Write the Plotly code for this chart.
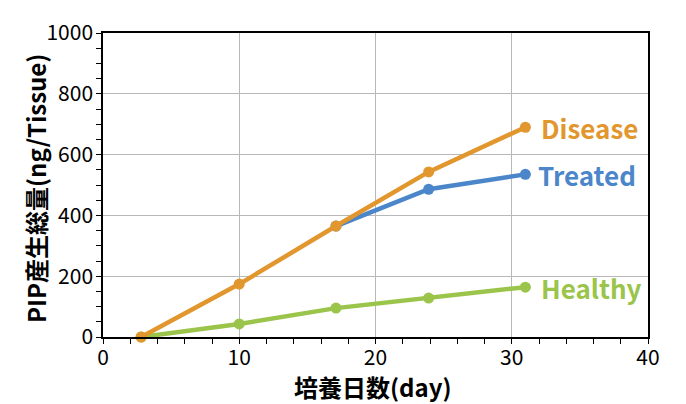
import plotly.graph_objects as go

days = [2.8, 10, 17.1, 23.9, 31]
disease = [0, 174, 365, 543, 690]
treated_days = [17.1, 23.9, 31]
treated = [365, 486, 535]
healthy = [0, 43, 95, 128, 164]

x_title = "培養日数(day)"
y_title = "PIP産生総量(ng/Tissue)"

C_DIS = "#E2962E"
C_TRT = "#4A86C9"
C_HLT = "#9AC44A"
FONT = "Noto Sans CJK JP"

fig = go.Figure()
for xs, ys, c, name in [(days, healthy, C_HLT, "Healthy"),
                        (treated_days, treated, C_TRT, "Treated"),
                        (days, disease, C_DIS, "Disease")]:
    fig.add_trace(go.Scatter(x=xs, y=ys, mode="lines+markers", name=name,
                             line=dict(color=c, width=4.5),
                             marker=dict(color=c, size=11),
                             cliponaxis=False, showlegend=False))

labels = [("Disease", disease[-1], C_DIS, 32.0),
          ("Treated", treated[-1], C_TRT, 31.8),
          ("Healthy", healthy[-1], C_HLT, 32.0)]
for txt, yv, c, xv in labels:
    fig.add_annotation(x=xv, y=yv, text="<b>" + txt + "</b>", showarrow=False,
                       xanchor="left", yanchor="middle",
                       font=dict(family=FONT, size=26, color=c))

fig.add_annotation(xref="paper", yref="paper", x=0.495, y=-0.163,
                   text="<b>" + x_title + "</b>", showarrow=False,
                   xanchor="center", yanchor="middle", borderpad=0,
                   font=dict(family=FONT, size=24, color="black"))
fig.add_annotation(xref="paper", yref="paper", x=-0.125, y=0.49,
                   text="<b>" + y_title + "</b>", showarrow=False, textangle=-90,
                   xanchor="center", yanchor="middle", borderpad=0,
                   font=dict(family=FONT, size=24, color="black"))

axis_common = dict(showline=True, linecolor="black", linewidth=1.5, mirror=True,
                   showgrid=True, gridcolor="#B8B8B8", gridwidth=1.3,
                   ticks="outside", ticklen=5, tickcolor="black", tickwidth=1,
                   zeroline=False, automargin=False,
                   tickfont=dict(family=FONT, size=21, color="black"))

fig.update_xaxes(range=[0, 40], dtick=10, ticklabelstandoff=-4,
                 minor=dict(dtick=2, ticks="outside", ticklen=5, tickcolor="black", showgrid=False),
                 **axis_common)
fig.update_yaxes(range=[0, 1000], dtick=200, ticklabelstandoff=-1,
                 minor=dict(dtick=50, ticks="outside", ticklen=5, tickcolor="black", showgrid=False),
                 **axis_common)

fig.update_layout(width=678, height=396, margin=dict(l=95, r=38, t=25, b=67),
                  plot_bgcolor="white", paper_bgcolor="white")
fig.write_html("out.html")
